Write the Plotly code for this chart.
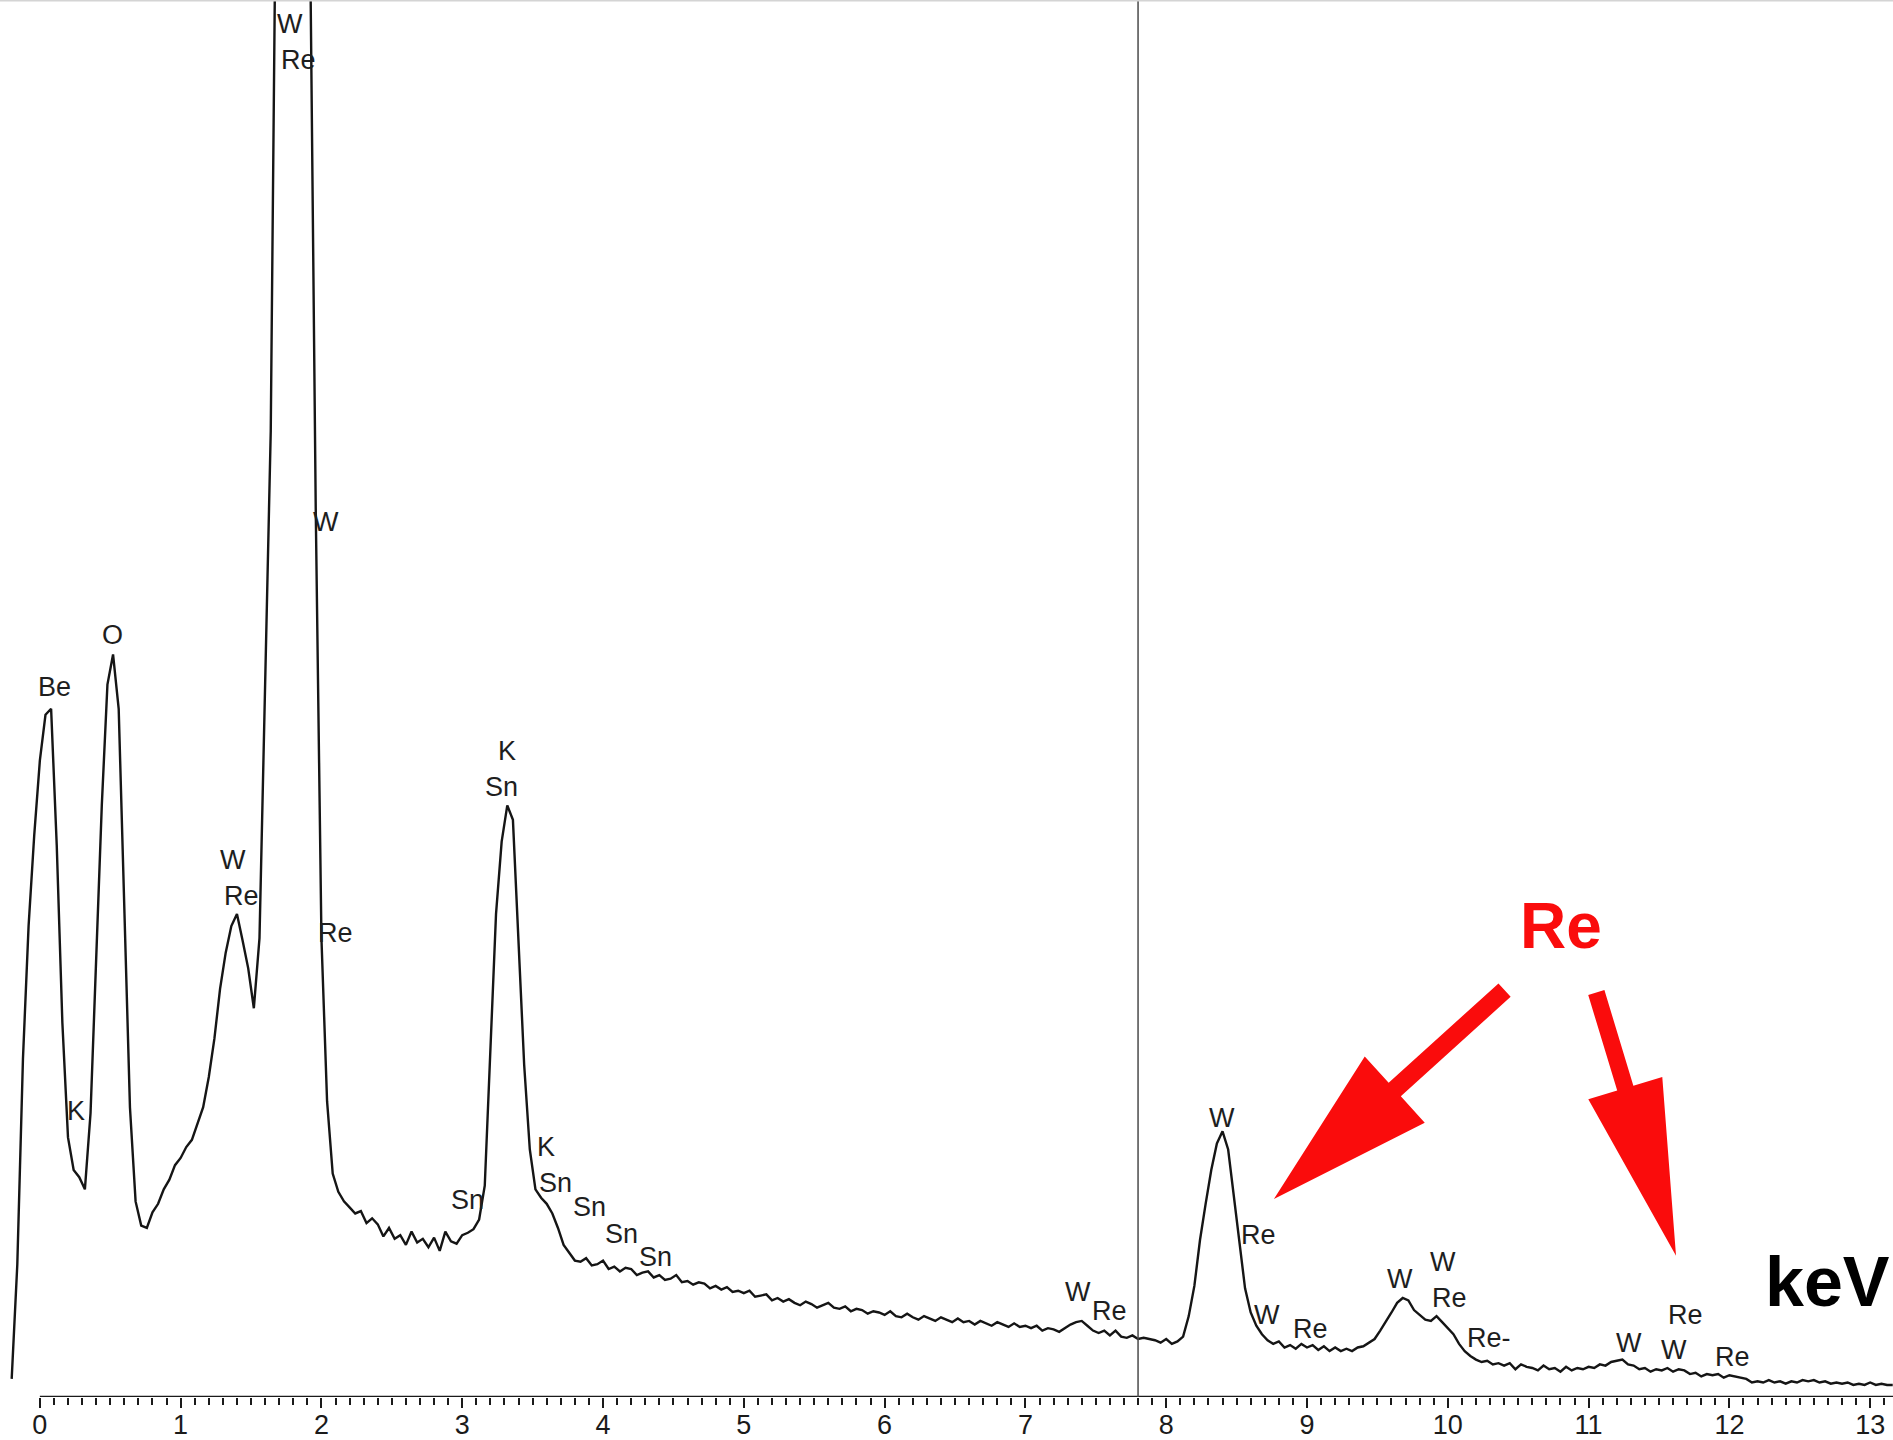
import numpy as np
import plotly.graph_objects as go

# ---------------- data ----------------
channel_start_kev = -0.20
channel_width_kev = 0.04
counts = [
    15, 110, 280, 390, 465,
    527, 565, 570, 457, 310, 215, 188, 182, 172, 235, 370, 490, 590, 615, 570, 400, 240, 162, 142, 140, 153, 160, 172, 180, 192,
    198, 207, 213, 226, 240, 265, 297, 338, 368, 390, 400, 378, 355, 322, 380, 590, 800, 1300, 1500, 1600, 1600, 1550, 1450, 1200, 730,
    380, 245, 185, 170, 162, 157, 152, 154, 144, 148, 143, 133, 140, 131, 134, 126, 137, 128, 131, 124, 132, 121, 137, 129, 127,
    134, 136, 139, 147, 175, 290, 400, 460, 490, 478, 375, 275, 205, 172, 165, 160, 152, 140, 126, 120, 113, 112, 115, 109, 110,
    113, 106, 108, 104, 107, 106, 101, 103, 104, 99, 101, 97, 98, 101, 95, 96, 93, 95, 94, 90, 92, 89, 91, 87, 88,
    86, 88, 83, 84, 85, 80, 82, 79, 81, 78, 76, 79, 77, 74, 76, 78, 74, 73, 75, 71, 73, 72, 69, 71, 70,
    68, 71, 67, 66, 69, 66, 64, 67, 65, 63, 66, 64, 62, 65, 62, 63, 60, 63, 61, 59, 62, 60, 58, 61, 58,
    59, 57, 59, 55, 57, 56, 54, 57, 60, 62, 63, 59, 55, 53, 55, 51, 55, 50, 49, 51, 48, 49, 48, 47, 45,
    48, 44, 46, 50, 67, 92, 130, 160, 188, 210, 220, 205, 165, 127, 90, 70, 59, 52, 47, 44, 46, 41, 43, 40, 44,
    41, 43, 39, 42, 38, 41, 38, 40, 38, 41, 42, 45, 48, 55, 62, 70, 78, 82, 80, 72, 68, 64, 63, 67, 62,
    57, 52, 44, 38, 34, 31, 29, 30, 27, 28, 26, 28, 23, 27, 25, 24, 22, 26, 23, 24, 21, 25, 22, 24, 23,
    25, 24, 27, 26, 29, 30, 31, 27, 26, 23, 24, 21, 23, 22, 24, 21, 23, 22, 19, 20, 17, 19, 18, 19, 16,
    18, 17, 16, 15, 12, 13, 12, 14, 12, 13, 11, 13, 12, 14, 13, 14, 12, 13, 11, 12, 11, 12, 10, 11, 10,
    12, 10, 11, 10, 10,
]
energies = channel_start_kev + channel_width_kev * np.arange(len(counts))

# element identification labels: text, energy (keV), label height (counts)
label_text = ["W", "Re", "W", "Re", "Be", "O", "K", "W", "Re", "K", "Sn", "Sn", "K", "Sn", "Sn", "Sn", "Sn",
              "W", "Re", "W", "Re", "W", "Re", "W", "W", "Re", "Re-", "W", "Re", "W", "Re"]
label_kev = [1.775, 1.835, 2.033, 2.101, 0.103, 0.515, 0.257, 1.372, 1.432, 3.319, 3.276, 3.036, 3.593, 3.662, 3.902, 4.134, 4.374,
             7.376, 7.599, 8.396, 8.653, 8.714, 9.022, 9.657, 9.966, 10.009, 10.292, 11.286, 11.690, 11.604, 12.024]
label_counts = [1137, 1107, 725, 384, 588, 631, 237, 445, 415, 535, 505, 163, 207, 177, 157, 135, 116,
                87, 71, 231, 134, 68, 56, 98, 112, 82, 49, 45, 68, 39, 33]

marker_line_kev = 7.80
tick_values = list(range(0, 14))
tick_labels = [str(v) for v in tick_values]
axis_title = "keV"
callout_text = "Re"

# ---------------- figure ----------------
RED = "rgb(250,12,12)"
NARROW = "Liberation Sans Narrow, Arial Narrow, Liberation Sans, Arial, sans-serif"

X0, X1 = -0.283, 13.162
Y0, Y1 = 0, 1157

fig = go.Figure()
fig.add_trace(go.Scatter(
    x=energies, y=counts, mode="lines",
    line=dict(color="#151515", width=2.4), hoverinfo="x+y", showlegend=False,
))

# pixel (reference-image) helper for the hand-drawn call-out arrows
def px_to_data(px, py):
    return (px - 33.0) / 116.6, 1157.0 - py

def arrow_path(tail, tip, shaft_w, head_w, head_len):
    t = np.array(tail, float)
    p = np.array(tip, float)
    u = (p - t) / np.linalg.norm(p - t)
    n = np.array([-u[1], u[0]])
    b = p - u * head_len
    pts = [t + n * shaft_w / 2, b + n * shaft_w / 2, b + n * head_w / 2, p,
           b - n * head_w / 2, b - n * shaft_w / 2, t - n * shaft_w / 2]
    d = [px_to_data(*q) for q in pts]
    return "M " + " L ".join(f"{x:.4f},{y:.2f}" for x, y in d) + " Z"

shapes = [
    # x axis line starting at 0 keV
    dict(type="line", xref="x", yref="y", x0=0, x1=X1, y0=0, y1=0,
         line=dict(color="#1a1a1a", width=2.5)),
    # vertical marker line
    dict(type="line", xref="x", yref="paper", x0=marker_line_kev, x1=marker_line_kev, y0=0, y1=1,
         line=dict(color="#4a4a4a", width=1.5)),
    # faint top border
    dict(type="line", xref="paper", yref="paper", x0=0, x1=1, y0=1, y1=1,
         line=dict(color="#d4d4d4", width=3)),
    dict(type="path", xref="x", yref="y", path=arrow_path((1246, 820), (1055, 993), 15, 74, 135),
         fillcolor=RED, line=dict(width=0)),
    dict(type="path", xref="x", yref="y", path=arrow_path((1322, 822), (1388, 1040), 14, 64, 145),
         fillcolor=RED, line=dict(width=0)),
]

annotations = []
for t, xk, yc in zip(label_text, label_kev, label_counts):
    annotations.append(dict(x=xk, y=yc, xref="x", yref="y", text=t, showarrow=False,
                            xanchor="center", yanchor="middle",
                            font=dict(family=NARROW, size=27, color="#1e1e1e")))
annotations.append(dict(x=10.806, y=390, xref="x", yref="y", text=f"<b>{callout_text}</b>", showarrow=False,
                        xanchor="center", yanchor="middle",
                        font=dict(family="Liberation Sans, Arial, sans-serif", size=64, color=RED)))
annotations.append(dict(x=12.70, y=95, xref="x", yref="y", text=f"<b>{axis_title}</b>", showarrow=False,
                        xanchor="center", yanchor="middle",
                        font=dict(family=NARROW, size=70, color="#000000")))

fig.update_layout(
    width=1893, height=1440,
    margin=dict(l=0, r=0, t=0, b=43, pad=0),
    paper_bgcolor="white", plot_bgcolor="white",
    showlegend=False,
    shapes=shapes,
    annotations=annotations,
    xaxis=dict(
        range=[X0, X1], showgrid=False, zeroline=False, showline=False,
        tickmode="array", tickvals=tick_values, ticktext=tick_labels,
        ticks="outside", ticklen=10, tickwidth=2, tickcolor="#1a1a1a",
        ticklabelstandoff=-6,
        tickfont=dict(family=NARROW, size=27, color="#1a1a1a"),
        minor=dict(tickmode="array", tickvals=[round(v, 1) for v in np.arange(0, 13.15, 0.1)],
                   ticks="outside", ticklen=7, tickwidth=1.6, tickcolor="#1a1a1a"),
        automargin=False, fixedrange=True,
    ),
    yaxis=dict(range=[Y0, Y1], visible=False, showgrid=False, zeroline=False, automargin=False),
)

fig.write_html("out.html")
